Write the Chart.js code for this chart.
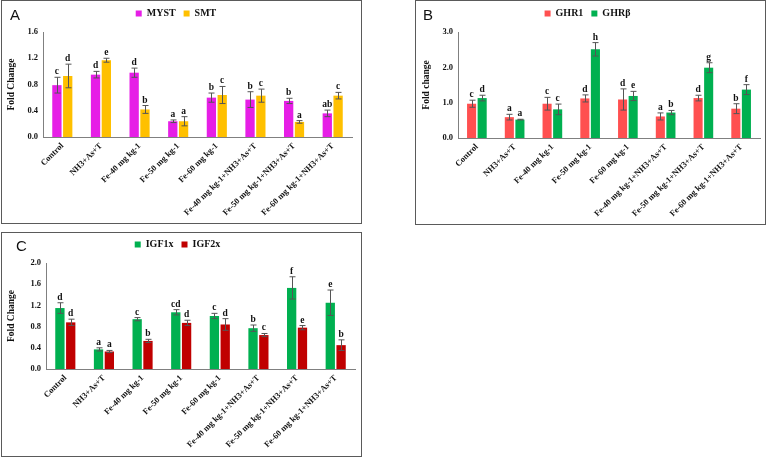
<!DOCTYPE html>
<html>
<head>
<meta charset="utf-8">
<script src="https://cdn.jsdelivr.net/npm/chart.js@4.4.1/dist/chart.umd.min.js"></script>
<style>
  body { margin: 0; background: #fff; width: 767px; height: 458px; position: relative; overflow: hidden; }
  canvas { position: absolute; }
  .tag { position: absolute; font-family: "Liberation Sans", Arial, sans-serif; font-size: 15px; color: #111; }
</style>
</head>
<body>
<canvas id="panelA" width="363" height="225" style="left:0;top:0"></canvas>
<canvas id="panelB" width="352" height="226" style="left:415px;top:0"></canvas>
<canvas id="panelC" width="363" height="226" style="left:0;top:232px"></canvas>
<div class="tag" style="left:10px;top:6px">A</div>
<div class="tag" style="left:423px;top:6px">B</div>
<div class="tag" style="left:16px;top:237px">C</div>

<script>
// treatments, same for all three panels
const groups = ['Control', 'NH3+As+T', 'Fe-40 mg kg-1', 'Fe-50 mg kg-1', 'Fe-60 mg kg-1',
  'Fe-40 mg kg-1+NH3+As+T', 'Fe-50 mg kg-1+NH3+As+T', 'Fe-60 mg kg-1+NH3+As+T']

// A
const mystVals = [0.79, 0.95, 0.98, 0.24, 0.60, 0.57, 0.55, 0.36]
const mystErr  = [0.12, 0.05, 0.07, 0.02, 0.07, 0.12, 0.04, 0.05]
const mystSig  = ['c', 'd', 'd', 'a', 'b', 'b', 'b', 'ab']
const smtVals  = [0.93, 1.17, 0.42, 0.24, 0.64, 0.63, 0.23, 0.63]
const smtErr   = [0.18, 0.03, 0.06, 0.07, 0.13, 0.10, 0.02, 0.05]
const smtSig   = ['d', 'e', 'b', 'a', 'c', 'c', 'a', 'c']

// B
const ghr1Vals = [0.97, 0.59, 0.97, 1.12, 1.09, 0.61, 1.13, 0.83]
const ghr1Err  = [0.10, 0.08, 0.18, 0.10, 0.30, 0.10, 0.08, 0.14]
const ghr1Sig  = ['c', 'a', 'c', 'd', 'd', 'a', 'd', 'b']
const ghrbVals = [1.13, 0.52, 0.81, 2.51, 1.19, 0.72, 1.99, 1.37]
const ghrbErr  = [0.08, 0.01, 0.15, 0.19, 0.13, 0.06, 0.14, 0.14]
const ghrbSig  = ['d', 'a', 'c', 'h', 'e', 'b', 'g', 'f']

// C
const igf1Vals = [1.15, 0.37, 0.94, 1.07, 1.00, 0.77, 1.53, 1.25]
const igf1Err  = [0.10, 0.03, 0.03, 0.05, 0.05, 0.06, 0.21, 0.24]
const igf1Sig  = ['d', 'a', 'c', 'cd', 'c', 'b', 'f', 'e']
const igf2Vals = [0.88, 0.33, 0.53, 0.87, 0.84, 0.64, 0.78, 0.45]
const igf2Err  = [0.06, 0.02, 0.03, 0.05, 0.11, 0.03, 0.04, 0.10]
const igf2Sig  = ['d', 'a', 'b', 'd', 'd', 'c', 'e', 'b']

const serif = '"Liberation Serif", "Times New Roman", serif'
const legendFont = 10
const legendPad = 8

// error bars + letters over each bar
const errPlugin = {
  id: 'errbars',
  afterDatasetsDraw(chart) {
    const ctx = chart.ctx
    const y = chart.scales.y
    chart.data.datasets.forEach((ds, i) => {
      chart.getDatasetMeta(i).data.forEach((bar, j) => {
        let v = ds.data[j], e = ds.err[j]
        let yTop = y.getPixelForValue(v + e)
        let yBot = y.getPixelForValue(v - e)
        let x = Math.round(bar.x) + 0.5
        ctx.save()
        ctx.strokeStyle = '#555'
        ctx.lineWidth = 1
        ctx.beginPath()
        ctx.moveTo(x, yTop); ctx.lineTo(x, yBot)
        ctx.moveTo(x - 3, yTop); ctx.lineTo(x + 3, yTop)
        ctx.moveTo(x - 3, yBot); ctx.lineTo(x + 3, yBot)
        ctx.stroke()
        ctx.fillStyle = '#111'
        ctx.font = 'bold 9.5px ' + serif
        ctx.textAlign = 'center'
        ctx.textBaseline = 'alphabetic'
        ctx.fillText(ds.sig[j], bar.x, yTop - 3)
        ctx.restore()
      })
    })
  }
}

// panel frame, and pull the legend up a little
const framePlugin = {
  id: 'frame',
  afterLayout(chart) {
    if (chart.legend) {
      chart.legend.top -= 3.5
      chart.legend.bottom -= 3.5
    }
  },
  afterDraw(chart, args, opts) {
    const ctx = chart.ctx
    ctx.save()
    ctx.strokeStyle = '#5a5a5a'
    ctx.lineWidth = 1
    ctx.strokeRect(opts.x, opts.y, opts.w, opts.h)
    ctx.restore()
  }
}

function makePanel(id, sets, yMax, step, yTitle, area, frame) {
  const canvas = document.getElementById(id)
  const W = canvas.width, H = canvas.height
  const legendH = legendFont + legendPad + 10

  return new Chart(canvas, {
    type: 'bar',
    data: {
      labels: groups,
      datasets: sets.map(s => ({
        label: s.label,
        data: s.vals,
        err: s.err,
        sig: s.sig,
        backgroundColor: s.color,
        borderWidth: 0,
        categoryPercentage: 0.56,
        barPercentage: 0.86
      }))
    },
    options: {
      responsive: false,
      animation: false,
      layout: {
        padding: { left: 0, right: W - area.right, top: area.top - legendH, bottom: 0 }
      },
      plugins: {
        legend: {
          position: 'top',
          labels: {
            boxWidth: 6,
            boxHeight: 6,
            padding: legendPad,
            color: '#111',
            font: { family: serif, size: legendFont, weight: 'bold' }
          }
        },
        tooltip: { enabled: false },
        frame: frame
      },
      scales: {
        x: {
          grid: { display: false, drawTicks: false },
          border: { display: true, color: '#808080', width: 1 },
          ticks: {
            autoSkip: false,
            minRotation: 45,
            maxRotation: 45,
            padding: 4,
            color: '#111',
            font: { family: serif, size: 8.5, weight: 'bold' }
          },
          afterFit: scale => { scale.height = H - area.bottom }
        },
        y: {
          min: 0,
          max: yMax,
          grid: { display: false, drawTicks: false },
          border: { display: true, color: '#808080', width: 1 },
          ticks: {
            stepSize: step,
            padding: 5,
            color: '#111',
            font: { family: serif, size: 8.5, weight: 'bold' },
            callback: v => Number(v).toFixed(1)
          },
          title: {
            display: true,
            text: yTitle,
            color: '#111',
            padding: { top: 6, bottom: 0 },
            font: { family: serif, size: 9.5, weight: 'bold' }
          },
          afterFit: scale => { scale.width = area.left }
        }
      }
    },
    plugins: [errPlugin, framePlugin]
  })
}

makePanel('panelA', [
  { label: 'MYST', vals: mystVals, err: mystErr, sig: mystSig, color: '#E61EE6' },
  { label: 'SMT', vals: smtVals, err: smtErr, sig: smtSig, color: '#FFC000' }
], 1.6, 0.4, 'Fold Change', { left: 43, right: 352, top: 32, bottom: 137 },
  { x: 1.5, y: 0.5, w: 360, h: 223 })

makePanel('panelB', [
  { label: 'GHR1', vals: ghr1Vals, err: ghr1Err, sig: ghr1Sig, color: '#FF5050' },
  { label: 'GHRβ', vals: ghrbVals, err: ghrbErr, sig: ghrbSig, color: '#00B050' }
], 3.0, 1.0, 'Fold change', { left: 43, right: 345, top: 32, bottom: 138 },
  { x: 0.5, y: 0.5, w: 350, h: 224 })

makePanel('panelC', [
  { label: 'IGF1x', vals: igf1Vals, err: igf1Err, sig: igf1Sig, color: '#00B050' },
  { label: 'IGF2x', vals: igf2Vals, err: igf2Err, sig: igf2Sig, color: '#C00000' }
], 2.0, 0.4, 'Fold Change', { left: 46, right: 355, top: 31, bottom: 137 },
  { x: 1.5, y: 0.5, w: 360, h: 224 })
</script>
</body>
</html>
